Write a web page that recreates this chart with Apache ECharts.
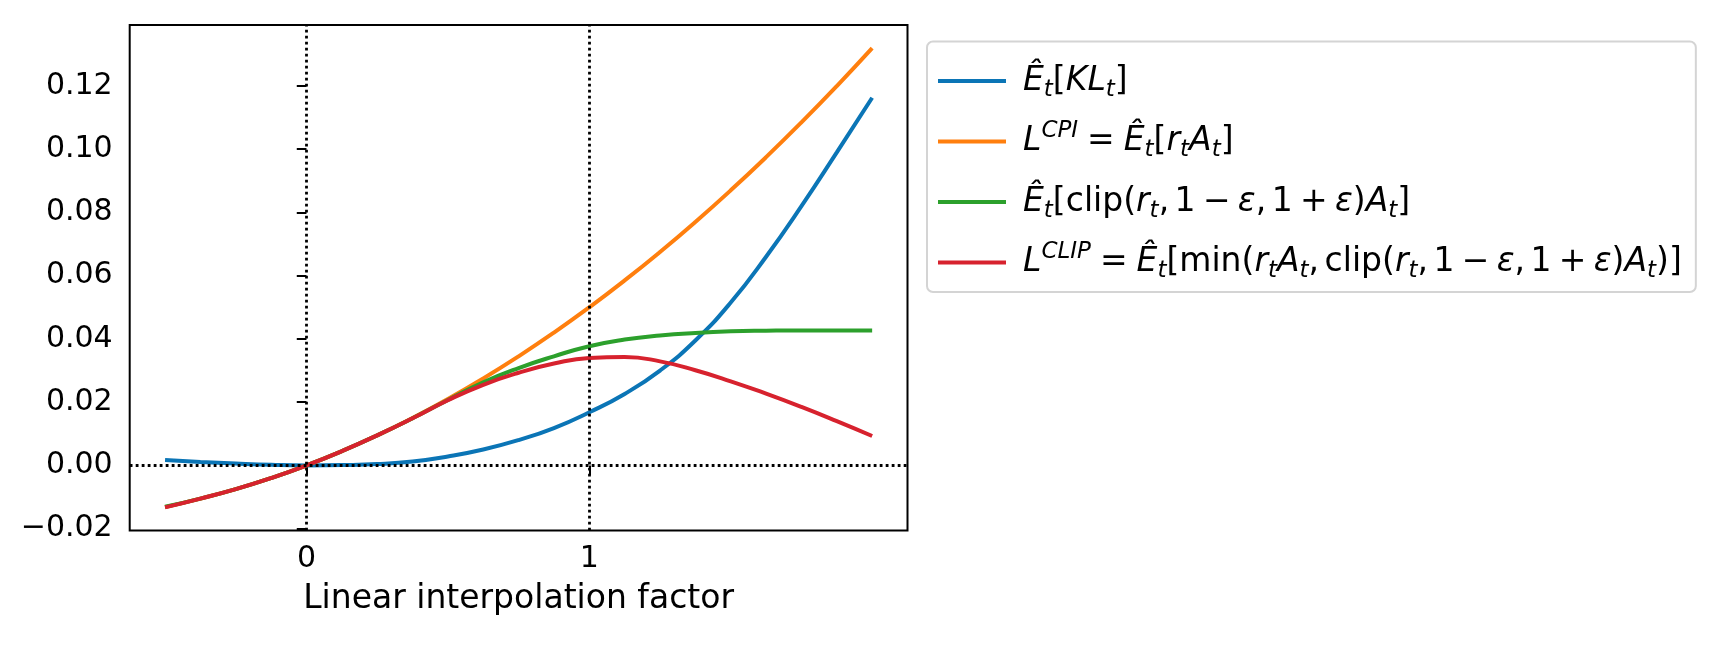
<!DOCTYPE html>
<html>
<head>
<meta charset="utf-8">
<script src="https://cdn.jsdelivr.net/npm/echarts@6.0.0/dist/echarts.min.js"></script>
<style>
html,body{margin:0;padding:0;background:#ffffff;}
#chart{width:1714px;height:656px;}
</style>
</head>
<body>
<div id="chart"></div>
<script>
// ---- data ----
const xValues     = [-0.5, -0.375, -0.25, -0.125, 0, 0.125, 0.25, 0.375, 0.5, 0.625, 0.75, 0.875, 1, 1.125, 1.25, 1.375, 1.5, 1.625, 1.75, 1.875, 2];
const klValues    = [0.0017, 0.0011, 0.0006, 0.0002, 0, 0.0001, 0.0004, 0.0012, 0.0028, 0.0050, 0.0080, 0.0118, 0.0168, 0.0226, 0.0300, 0.0395, 0.0515, 0.0660, 0.0820, 0.0990, 0.1163];
const cpiValues   = [-0.0132, -0.0105, -0.0075, -0.0040, 0, 0.0045, 0.0095, 0.0150, 0.0210, 0.0275, 0.0345, 0.0420, 0.0500, 0.0585, 0.0675, 0.0770, 0.0870, 0.0975, 0.1085, 0.1200, 0.1320];
const clipValues  = [-0.0131, -0.0105, -0.0075, -0.0040, 0, 0.0045, 0.0095, 0.0149, 0.0207, 0.0263, 0.0308, 0.0345, 0.0377, 0.0398, 0.0411, 0.0419, 0.0424, 0.0426, 0.0427, 0.0427, 0.0427];
const lclipValues = [-0.0133, -0.0105, -0.0075, -0.0040, 0, 0.0045, 0.0095, 0.0149, 0.0206, 0.0255, 0.0293, 0.0322, 0.0340, 0.0343, 0.0329, 0.0301, 0.0266, 0.0227, 0.0185, 0.0140, 0.0093];
const yTicks = [-0.02, 0, 0.02, 0.04, 0.06, 0.08, 0.10, 0.12];
const xTicks = [0, 1];
const refLinesX = [0, 1];
const refLinesY = [0];
const seriesNames = ['KL', 'CPI', 'CLIPSURR', 'CLIP'];
const seriesColors = ['#0b75b6', '#ff7f0e', '#2ca02c', '#d7222e'];
const xAxisName = 'Linear interpolation factor';

// legend labels (rich text versions of the math labels)
const legendLabels = {
  'KL': '{g| }{i|Ê}{s|t}{r|[}{i|KL}{s|t}{r|]}',
  'CPI': '{g| }{i|L}{p|CPI}{rel| }{r|=}{rel| }{i|Ê}{s|t}{r|[}{i|r}{s|t}{i|A}{s|t}{r|]}',
  'CLIPSURR': '{g| }{i|Ê}{s|t}{r|[clip(}{i|r}{s|t}{r|,}{cm| }{r|1}{bin| }{r|−}{bin| }{i|ε}{r|,}{cm| }{r|1}{bin| }{r|+}{bin| }{i|ε}{r|)}{i|A}{s|t}{r|]}',
  'CLIP': '{g| }{i|L}{p|CLIP}{rel| }{r|=}{rel| }{i|Ê}{s|t}{r|[min(}{i|r}{s|t}{i|A}{s|t}{r|,}{cm| }{r|clip(}{i|r}{s|t}{r|,}{cm| }{r|1}{bin| }{r|−}{bin| }{i|ε}{r|,}{cm| }{r|1}{bin| }{r|+}{bin| }{i|ε}{r|)}{i|A}{s|t}{r|)]}'
};

const FONT = 'DejaVu Sans';
const valueSets = [klValues, cpiValues, clipValues, lclipValues];

function fmtY(v) {
  const s = Math.abs(v).toFixed(2);
  return v < -1e-9 ? '\u2212' + s : s;
}

const series = seriesNames.map((name, k) => ({
  name: name,
  type: 'line',
  data: xValues.map((x, i) => [x, valueSets[k][i]]),
  smooth: 0.5,
  symbol: 'none',
  showSymbol: false,
  lineStyle: { color: seriesColors[k], width: 4 },
  itemStyle: { color: seriesColors[k] },
  z: 2 + k,
  silent: true
}));

series[0].markLine = {
  silent: true,
  symbol: ['none', 'none'],
  label: { show: false },
  z: 10,
  animation: false,
  lineStyle: { color: '#000000', width: 2.8, type: [2.8, 3.2] },
  data: refLinesX.map(v => ({ xAxis: v })).concat(refLinesY.map(v => ({ yAxis: v })))
};

const chart = echarts.init(document.getElementById('chart'), null, { renderer: 'canvas' });
chart.setOption({
  animation: false,
  backgroundColor: '#ffffff',
  textStyle: { fontFamily: FONT },
  grid: {
    left: 129.7, top: 25, right: 806.5, bottom: 125.5,
    show: true, borderColor: '#000000', borderWidth: 2,
    backgroundColor: 'transparent',
    containLabel: false, outerBoundsMode: 'none'
  },
  xAxis: {
    type: 'value',
    min: -0.625, max: 2.125,
    name: xAxisName,
    nameLocation: 'middle',
    nameGap: 52,
    nameTextStyle: { fontFamily: FONT, fontSize: 33, color: '#000000' },
    axisLine: { show: false },
    splitLine: { show: false },
    axisTick: { show: true, customValues: xTicks, length: 9.7, lineStyle: { color: '#000', width: 2 } },
    axisLabel: { show: true, customValues: xTicks, margin: 14, fontFamily: FONT, fontSize: 30, color: '#000000',
      formatter: v => String(v) }
  },
  yAxis: {
    type: 'value',
    min: -0.0206, max: 0.1393,
    axisLine: { show: false },
    splitLine: { show: false },
    axisTick: { show: true, customValues: yTicks, length: 9.7, lineStyle: { color: '#000', width: 2 } },
    axisLabel: { show: true, customValues: yTicks, margin: 17, fontFamily: FONT, fontSize: 30, color: '#000000',
      formatter: v => fmtY(v) }
  },
  legend: {
    show: true,
    orient: 'vertical',
    left: 927, top: 41.5,
    padding: [19, 14, 8, 11],
    itemGap: 18.5,
    itemWidth: 68, itemHeight: 4,
    icon: 'rect',
    selectedMode: false,
    itemStyle: { borderWidth: 0 },
    backgroundColor: 'rgba(255,255,255,0.8)',
    borderColor: '#d4d4d4', borderWidth: 2, borderRadius: 6,
    data: seriesNames,
    formatter: name => legendLabels[name],
    textStyle: {
      fontFamily: FONT, fontSize: 33, color: '#000000', lineHeight: 40,
      rich: {
        g:   { width: 12, fontSize: 33, lineHeight: 40 },
        cm:  { width: 5.5, fontSize: 33, lineHeight: 40 },
        bin: { width: 7.3, fontSize: 33, lineHeight: 40 },
        rel: { width: 9, fontSize: 33, lineHeight: 40 },
        r:   { fontFamily: FONT, fontSize: 33, color: '#000', lineHeight: 40 },
        i:   { fontFamily: FONT, fontSize: 33, fontStyle: 'italic', color: '#000', lineHeight: 40 },
        s:   { fontFamily: FONT, fontSize: 23, fontStyle: 'italic', color: '#000', lineHeight: 40, padding: [18, 0, 0, 0] },
        p:   { fontFamily: FONT, fontSize: 23, fontStyle: 'italic', color: '#000', lineHeight: 40, padding: [0, 0, 20, 0] }
      }
    }
  },
  series: series
});
</script>
</body>
</html>
